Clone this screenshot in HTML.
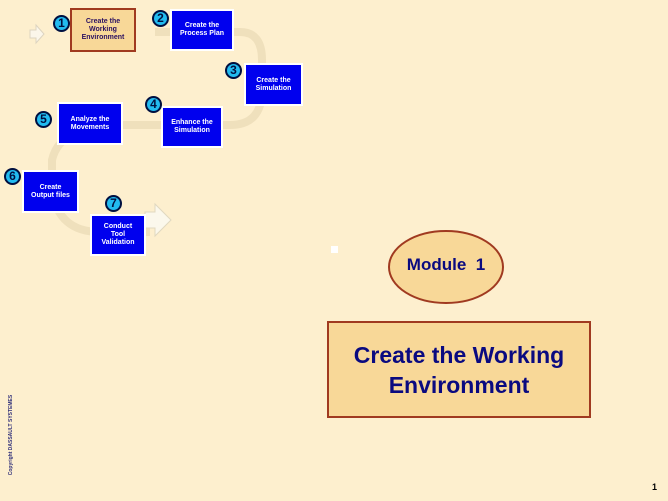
<!DOCTYPE html>
<html><head><meta charset="utf-8"><style>
html,body{margin:0;padding:0;}
body{width:668px;height:501px;background:#FDEFCE;position:relative;overflow:hidden;font-family:"Liberation Sans",Arial,sans-serif;}
.b{position:absolute;background:#0000EE;border:2px solid #fff;color:#fff;font-weight:bold;font-size:7px;line-height:8px;display:flex;align-items:center;justify-content:center;text-align:center;box-sizing:border-box;}
.c{position:absolute;width:13px;height:13px;border-radius:50%;background:#22BBF0;border:2.5px solid #001040;color:#001040;font-weight:bold;font-size:12px;line-height:13px;text-align:center;box-sizing:content-box;}
</style></head><body>
<svg width="668" height="501" style="position:absolute;left:0;top:0">
<path d="M155 32 H240 Q262 32 262 60 V90 Q262 125 230 125 H120 Q60 125 52 160 V190 Q58 232 100 232 H150" fill="none" stroke="#EFE0BC" stroke-width="8"/>
<path d="M30 30 h6 v-5 l8 9 l-8 9 v-5 h-6z" fill="#FBF6EA" stroke="#DDD4C0"/>
<path d="M145 212 h10 v-8 l16 16 l-16 16 v-8 h-10z" fill="#FBF8EC" stroke="#E0D8C0"/>
<ellipse cx="446" cy="267" rx="57" ry="36" fill="#F8D898" stroke="#A03A20" stroke-width="2"/>
<rect x="331" y="246" width="7" height="7" fill="#fff"/>
</svg>
<div class="b" style="left:70px;top:8px;width:66px;height:44px;background:#F8D898;border:2px solid #A03A20;color:#2A1060;">Create the<br>Working<br>Environment</div>
<div class="b" style="left:170px;top:9px;width:64px;height:42px;">Create the<br>Process Plan</div>
<div class="b" style="left:244px;top:63px;width:59px;height:43px;">Create the<br>Simulation</div>
<div class="b" style="left:161px;top:106px;width:62px;height:42px;">Enhance the<br>Simulation</div>
<div class="b" style="left:57px;top:102px;width:66px;height:43px;">Analyze the<br>Movements</div>
<div class="b" style="left:22px;top:170px;width:57px;height:43px;">Create<br>Output files</div>
<div class="b" style="left:90px;top:214px;width:56px;height:42px;">Conduct<br>Tool<br>Validation</div>
<div class="c" style="left:53px;top:15px;">1</div>
<div class="c" style="left:152px;top:10px;">2</div>
<div class="c" style="left:225px;top:62px;">3</div>
<div class="c" style="left:145px;top:96px;">4</div>
<div class="c" style="left:35px;top:111px;">5</div>
<div class="c" style="left:4px;top:168px;">6</div>
<div class="c" style="left:105px;top:195px;">7</div>
<div style="position:absolute;left:388px;top:255px;width:116px;text-align:center;color:#0A0A80;font-weight:bold;font-size:17px;">Module&nbsp; 1</div>
<div style="position:absolute;left:327px;top:321px;width:264px;height:97px;box-sizing:border-box;background:#F8D898;border:2px solid #A03A20;color:#0A0A80;font-weight:bold;font-size:23px;line-height:30px;display:flex;align-items:center;justify-content:center;text-align:center;">Create the Working<br>Environment</div>
<div style="position:absolute;left:-39px;top:432px;width:100px;transform:rotate(-90deg);font-size:5px;color:#30307A;font-weight:bold;text-align:center;">Copyright DASSAULT SYSTEMES</div>
<div style="position:absolute;left:652px;top:482px;font-size:9px;font-weight:bold;color:#000;">1</div>
</body></html>
